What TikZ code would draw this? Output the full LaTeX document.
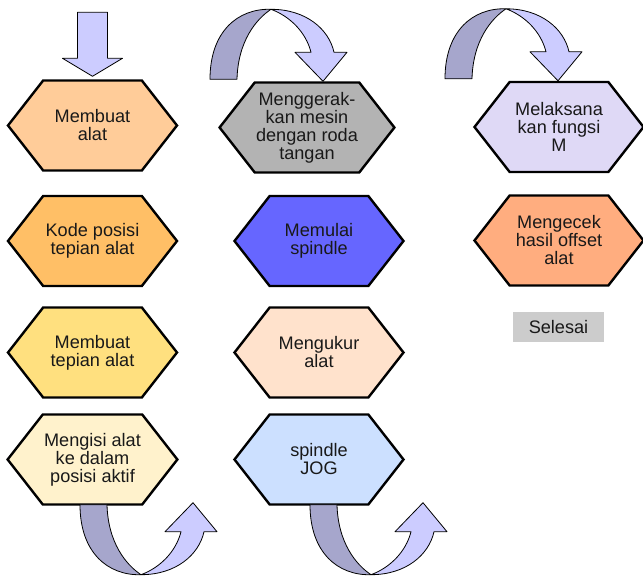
\documentclass[tikz,border=0pt]{standalone}
\usepackage{fontspec}
\setmainfont{Liberation Sans}
\usepackage{tikz}
\usetikzlibrary{shapes.symbols}
\usetikzlibrary{calc}
\definecolor{fillAlat}{HTML}{FFCC99}
\definecolor{fillKode}{HTML}{FFBF66}
\definecolor{fillTepian}{HTML}{FFE07F}
\definecolor{fillAktif}{HTML}{FFF2CC}
\definecolor{fillMesin}{HTML}{B3B3B3}
\definecolor{fillSpindle}{HTML}{6666FF}
\definecolor{fillUkur}{HTML}{FFE2CC}
\definecolor{fillJog}{HTML}{CCE0FF}
\definecolor{fillFungsi}{HTML}{DFD9F6}
\definecolor{fillCek}{HTML}{FFAD7F}
\definecolor{arrowBack}{HTML}{A6A6CC}
\definecolor{arrowFront}{HTML}{CCCCFF}
\tikzset{hexa/.style = {signal, signal to=west and east, signal pointer angle=104,
                        draw=black, line width=1.8pt, minimum width=126.75pt,
                        minimum height=67.5pt, inner sep=1pt, align=center,
                        text=black!90, font=\fontsize{13.6}{13.5}\selectfont,
                        execute at begin node=\rule{0pt}{19pt}}}
\tikzset{endbox/.style = {fill=black!20, minimum width=68pt, minimum height=22.5pt,
                          inner sep=1pt, text=black!90, font=\fontsize{13.6}{13.5}\selectfont}}
\tikzset{downarrow/.style = {draw=black, line width=0.6pt, fill=arrowFront, line join=round}}
\tikzset{curlarrow/.pic = {
  \draw [downarrow, fill=arrowBack] (0,0) .. controls (0,48) and (28,71) .. (61,70)
        .. controls (46,60) and (28,38) .. (27,0) -- cycle;
  \draw [downarrow] (61,70) .. controls (96,70) and (119,50) .. (124,27)
        -- (137,27) -- (113,-2) -- (85,27) -- (101,27)
        .. controls (96,47) and (80,63) .. (61,70) -- cycle;
}}

\begin{document}
\begin{tikzpicture}[x=0.75pt, y=-0.75pt]
  \useasboundingbox (0,0) rectangle (643,577);

  \node [hexa, fill=fillAlat] (alat) at (92.5,125.5) {Membuat\\alat};
  \node [hexa, fill=fillKode] (kode) at (92.5,241) {Kode posisi\\tepian alat};
  \node [hexa, fill=fillTepian] (tepian) at (92.5,352.5) {Membuat\\tepian alat};
  \node [hexa, fill=fillAktif] (aktif) at (92.5,459.5) {Mengisi alat\\ke dalam\\posisi aktif};

  \node [hexa, fill=fillMesin] (mesin) at (307,127.5) {Menggerak-\\kan mesin\\dengan roda\\tangan};
  \node [hexa, fill=fillSpindle] (spindle) at (319,241) {Memulai\\spindle};
  \node [hexa, fill=fillUkur] (ukur) at (319,352.5) {Mengukur\\alat};
  \node [hexa, fill=fillJog] (jog) at (319,459.5) {spindle\\JOG};

  \node [hexa, fill=fillFungsi] (fungsi) at (559,127) {Melaksana\\kan fungsi\\M};
  \node [hexa, fill=fillCek] (cek) at (559,240.5) {Mengecek\\hasil offset\\alat};
  \node [endbox] (selesai) at (558.5,327) {Selesai};

  % start arrow
  \draw [downarrow] ($(alat.north)+(-15,-67)$) -- ++(30,0) -- ++(0,46) -- ++(15,0)
        -- ($(alat.north)+(0,-3)$) -- ($(alat.north)+(-30,-21)$) -- ++(15,0) -- cycle;

  % turn arrows between the columns
  \pic at ($(aktif.south)+(-12.5,-1)$) {curlarrow};
  \pic at ($(jog.south)+(-9,-1)$) {curlarrow};
  \pic [yscale=-1] at ($(mesin.north)+(-97,-2)$) {curlarrow};
  \pic [yscale=-1] at ($(fungsi.north)+(-114,-2)$) {curlarrow};

\end{tikzpicture}
\end{document}
